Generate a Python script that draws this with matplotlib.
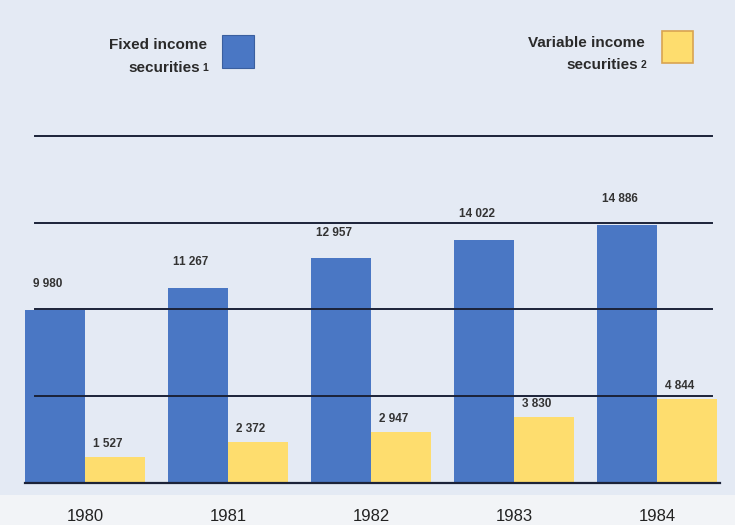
import numpy as np
import matplotlib.pyplot as plt
from matplotlib.patches import Rectangle

anos = ["1980", "1981", "1982", "1983", "1984"]
renda_fixa = [9980, 11267, 12957, 14022, 14886]
renda_variable = [1527, 2372, 2947, 3830, 4844]
liñas = [0, 5000, 10000, 15000, 20000]

azul = "#4a77c4"
amarelo = "#fedd6e"
fondo = "#e4eaf4"
escuro = "#1b2238"

W, H = 735, 525
fig = plt.figure(figsize=(W/100, H/100), dpi=100, facecolor="#f2f4f7")

# Eixo que ocupa a zona de fondo azulado
ax = fig.add_axes([0, 30/H, 1, 495/H])
ax.set_facecolor(fondo)
for s in ax.spines.values():
    s.set_visible(False)

escala = 347/20000  # px por unidade
ax.set_ylim(-12/escala, 483/escala)
ax.set_xlim(-85/143, (W - 85)/143)

x = np.arange(len(anos))
w = 60/143
ax.bar(x - w/2, renda_fixa, w, color=azul, zorder=2)
ax.bar(x + w/2, renda_variable, w, color=amarelo, zorder=2)

# Liñas horizontais por riba das barras
for v in liñas:
    if v == 0:
        ax.axhline(v, xmin=25/W, xmax=720/W, color=escuro, lw=1.6, zorder=3)
    else:
        ax.axhline(v, xmin=35/W, xmax=712/W, color=escuro, lw=1.4, zorder=3)

# Etiquetas dos valores
def fmt(v):
    return f"{v:,}".replace(",", " ")

for i in range(len(anos)):
    ax.annotate(fmt(renda_fixa[i]), (x[i] - w/2 - 0.05, renda_fixa[i]),
                xytext=(0, 14), textcoords="offset points", ha="center",
                va="bottom", fontsize=8.5, fontweight="bold", color="#333333",
                family="Liberation Sans", zorder=4)
    ax.annotate(fmt(renda_variable[i]), (x[i] + w/2 - 0.05, renda_variable[i]),
                xytext=(0, 5), textcoords="offset points", ha="center",
                va="bottom", fontsize=8.5, fontweight="bold", color="#333333",
                family="Liberation Sans", zorder=4)

ax.set_xticks(x, anos)
ax.tick_params(axis="x", length=0, pad=10, labelsize=12, labelcolor="#222222")
ax.set_yticks([])
for t in ax.get_xticklabels():
    t.set_family("Liberation Sans")

# Lenda
def px(xp, yp):
    return xp/W, 1 - yp/H

tx = dict(fontsize=11, fontweight="bold", color="#2a2a2a",
          family="Liberation Sans", ha="right", va="center")
fig.text(*px(207, 45), "Fixed income", **tx)
fig.text(*px(200, 68), "securities", **tx)
fig.text(*px(208, 68), "1", fontsize=7.5, fontweight="bold", color="#2a2a2a",
         family="Liberation Sans", ha="right", va="center")
fig.patches.append(Rectangle(px(222, 68), 32/W, 33/H, transform=fig.transFigure,
                             facecolor=azul, edgecolor="#3a5f9f", lw=0.8))

fig.text(*px(645, 43), "Variable income", **tx)
fig.text(*px(638, 65), "securities", **tx)
fig.text(*px(646, 65), "2", fontsize=7.5, fontweight="bold", color="#2a2a2a",
         family="Liberation Sans", ha="right", va="center")
fig.patches.append(Rectangle(px(662, 63), 31/W, 32/H, transform=fig.transFigure,
                             facecolor=amarelo, edgecolor="#d9a450", lw=1.2))

fig.savefig("out.png", dpi=100, facecolor=fig.get_facecolor())
